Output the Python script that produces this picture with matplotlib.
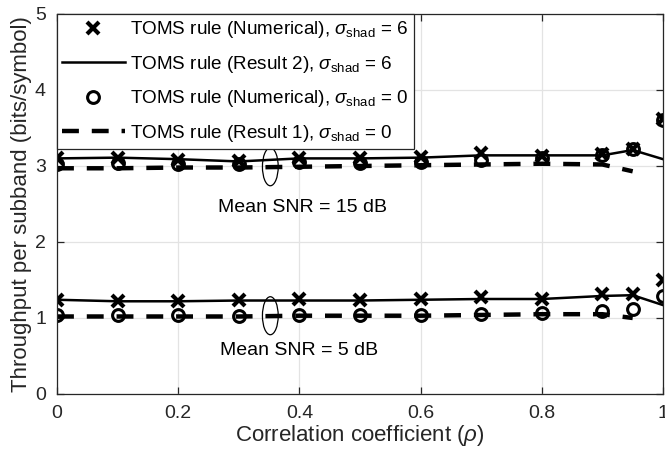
import numpy as np
import matplotlib
matplotlib.use("Agg")
import matplotlib.pyplot as plt
from matplotlib.patches import Ellipse

plt.rcParams['font.family'] = ['Liberation Sans', 'DejaVu Sans']
plt.rcParams['mathtext.fontset'] = 'custom'
plt.rcParams['mathtext.rm'] = 'Liberation Sans'
plt.rcParams['mathtext.it'] = 'Liberation Sans:italic'

# correlation coefficient grid
rho = [0, 0.1, 0.2, 0.3, 0.4, 0.5, 0.6, 0.7, 0.8, 0.9, 0.95, 1.0]

# mean SNR = 15 dB
num_s6_15 = [3.10, 3.10, 3.08, 3.06, 3.10, 3.10, 3.12, 3.17, 3.13, 3.16, 3.23, 3.62]
res2_s6_15 = [3.10, 3.11, 3.09, 3.06, 3.10, 3.10, 3.11, 3.14, 3.14, 3.14, 3.21, 3.09]
num_s0_15 = [3.03, 3.04, 3.03, 3.03, 3.05, 3.04, 3.05, 3.08, 3.10, 3.15, 3.23, 3.60]
res1_s0_15 = [2.97, 2.97, 2.98, 2.98, 2.99, 3.00, 3.01, 3.02, 3.03, 3.02, 2.93, np.nan]

# mean SNR = 5 dB
num_s6_5 = [1.24, 1.23, 1.23, 1.24, 1.25, 1.24, 1.25, 1.27, 1.25, 1.31, 1.32, 1.50]
res2_s6_5 = [1.24, 1.22, 1.22, 1.23, 1.23, 1.23, 1.24, 1.25, 1.25, 1.29, 1.30, 1.17]
num_s0_5 = [1.04, 1.04, 1.04, 1.03, 1.04, 1.04, 1.04, 1.05, 1.06, 1.09, 1.12, 1.29]
res1_s0_5 = [1.02, 1.02, 1.02, 1.02, 1.03, 1.03, 1.03, 1.04, 1.05, 1.05, 1.00, np.nan]

labels = [r'TOMS rule (Numerical), $\sigma_{\mathrm{shad}}$ = 6',
          r'TOMS rule (Result 2), $\sigma_{\mathrm{shad}}$ = 6',
          r'TOMS rule (Numerical), $\sigma_{\mathrm{shad}}$ = 0',
          r'TOMS rule (Result 1), $\sigma_{\mathrm{shad}}$ = 0']

fig = plt.figure(figsize=(6.65, 4.49), dpi=100)
ax = fig.add_axes([57/665, 55/449, 606/665, 380/449])

cross = dict(ls='none', marker='x', ms=8, mew=3, color='k')
circ = dict(ls='none', marker='o', ms=8.5, mew=2.2, mfc='none', color='k')
solid = dict(ls='-', lw=1.8, color='k')
dash = dict(ls=(0, (3.8, 2.9)), lw=3.2, color='k')

h1, = ax.plot(rho, num_s6_15, **cross)
h2, = ax.plot(rho, res2_s6_15, **solid)
h3, = ax.plot(rho, num_s0_15, **circ)
h4, = ax.plot(rho, res1_s0_15, **dash)
ax.plot(rho, num_s6_5, **cross)
ax.plot(rho, res2_s6_5, **solid)
ax.plot(rho, num_s0_5, **circ)
ax.plot(rho, res1_s0_5, **dash)

# ellipses grouping the curves at each SNR
for yc in (2.99, 1.03):
    ax.add_patch(Ellipse((0.352, yc), 0.026, 0.5, fill=False, lw=0.9, ec='k'))
ax.text(0.266, 2.45, 'Mean SNR = 15 dB', fontsize=14, va='center')
ax.text(0.269, 0.57, 'Mean SNR = 5 dB', fontsize=14, va='center')

ax.set_xlim(0, 1)
ax.set_ylim(0, 5)
ax.set_xticks(np.arange(0, 1.01, 0.2))
ax.set_xticklabels(['0', '0.2', '0.4', '0.6', '0.8', '1'])
ax.set_yticks(range(6))
ax.grid(True, color='#e3e3e3', lw=0.9)
ax.set_axisbelow(True)
ax.tick_params(direction='in', top=True, right=True, labelsize=14,
               length=5, width=0.9, colors='#262626', pad=8)
for s in ax.spines.values():
    s.set_color('#262626')
    s.set_linewidth(0.9)
ax.set_xlabel(r'Correlation coefficient ($\rho$)', fontsize=16, labelpad=1,
              color='#262626')
ax.set_ylabel('Throughput per subband (bits/symbol)', fontsize=16, labelpad=2,
              color='#262626')

leg = ax.legend([h1, h2, h3, h4], labels, loc='upper left',
                bbox_to_anchor=(0, 1), borderaxespad=0, fontsize=13.6,
                handlelength=3.3, handletextpad=0.3, labelspacing=0.72,
                borderpad=0.28, fancybox=False, framealpha=1)
leg.get_frame().set_edgecolor('#262626')
leg.get_frame().set_linewidth(0.9)

fig.savefig('out.png', dpi=100)
